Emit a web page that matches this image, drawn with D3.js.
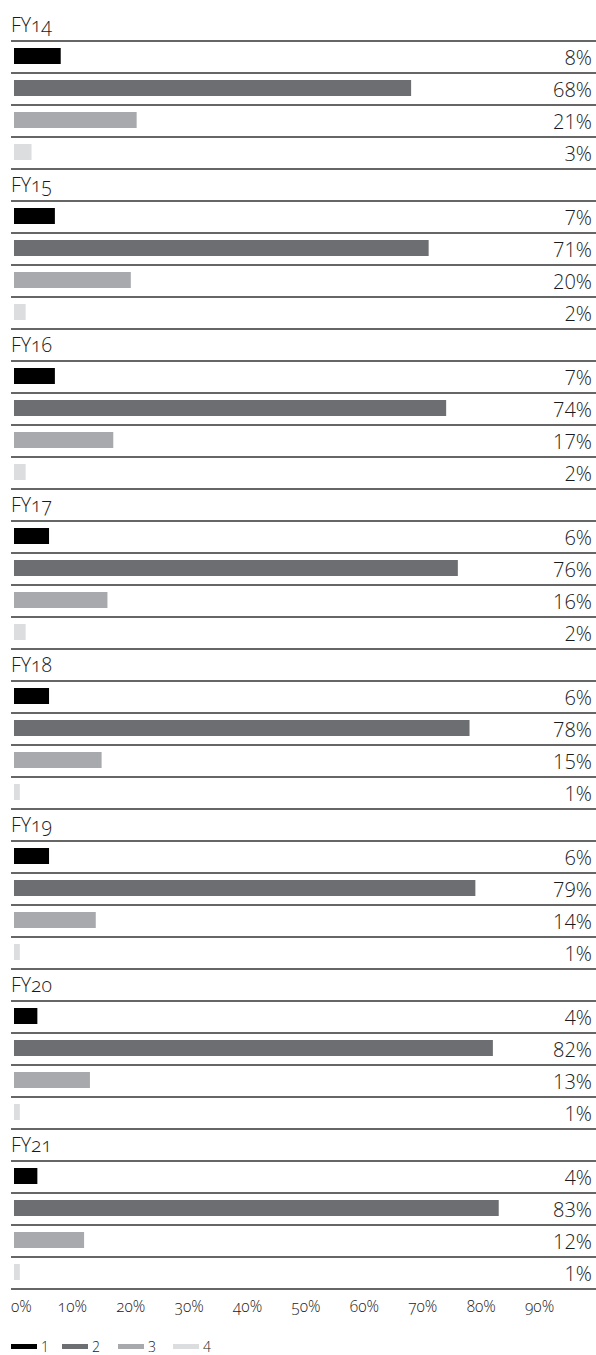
<!DOCTYPE html>
<html><head><meta charset="utf-8">
<script src="https://cdn.jsdelivr.net/npm/d3@7"></script>
<style>
body{margin:0;background:#fff;}
svg{display:block;font-family:"Open Sans",sans-serif;}
.onum{font-variant-numeric:oldstyle-nums;font-feature-settings:"onum" 1;}
</style></head><body>
<svg id="c" width="596" height="1355"></svg>
<script>
const years = ["FY14","FY15","FY16","FY17","FY18","FY19","FY20","FY21"];
const series = ["1","2","3","4"];
const s1 = [8,7,7,6,6,6,4,4];
const s2 = [68,71,74,76,78,79,82,83];
const s3 = [21,20,17,16,15,14,13,12];
const s4 = [3,2,2,2,1,1,1,1];
const ticks = [0,10,20,30,40,50,60,70,80,90];
const colors = ["#000000","#6d6e71","#a7a9ac","#dcddde"];

const svg = d3.select("#c");
const x = d3.scaleLinear().domain([0,90]).range([14,539.6]);
const rows = [];
years.forEach((y,gi)=>{
  rows.push({id:y+"-t", type:"title", label:y});
  [s1,s2,s3,s4].forEach((s,si)=>rows.push({id:y+"-"+si, type:"bar", v:s[gi], si}));
});
const yb = d3.scaleBand().domain(rows.map(r=>r.id)).range([9,1289]);

const g = svg.append("g");
g.selectAll("line.sep").data(rows).join("line")
  .attr("x1",11).attr("x2",596)
  .attr("y1",r=>yb(r.id)+yb.bandwidth()).attr("y2",r=>yb(r.id)+yb.bandwidth())
  .attr("stroke","#333").attr("stroke-width",1.4);

g.selectAll("text.title").data(rows.filter(r=>r.type==="title")).join("text")
  .attr("class","onum").attr("x",11).attr("y",r=>yb(r.id)+23)
  .attr("font-size",19.5).attr("font-weight",300).attr("fill","#1a1a1a").text(r=>r.label);

const bars = rows.filter(r=>r.type==="bar");
g.selectAll("rect.bar").data(bars).join("rect")
  .attr("x",x(0)).attr("y",r=>yb(r.id)+7).attr("height",16)
  .attr("width",r=>x(r.v)-x(0)).attr("fill",r=>colors[r.si]);

g.selectAll("text.val").data(bars).join("text")
  .attr("x",592).attr("y",r=>yb(r.id)+24).attr("text-anchor","end")
  .attr("font-size",20).attr("font-weight",300).attr("fill","#1a1a1a").text(r=>r.v+"%");

svg.append("g").selectAll("text").data(ticks).join("text")
  .attr("class","onum")
  .attr("x",d=>d===0?11:x(d)).attr("y",1312)
  .attr("text-anchor",d=>d===0?"start":"middle")
  .attr("font-size",15.5).attr("font-weight",300).attr("fill","#222").text(d=>d+"%");

const lx = [11,62,118,173];
const lg = svg.append("g").selectAll("g").data(series).join("g")
  .attr("transform",(d,i)=>`translate(${lx[i]},1344)`);
lg.append("rect").attr("width",26).attr("height",5).attr("fill",(d,i)=>colors[i]);
lg.append("text").attr("x",30).attr("y",8).attr("font-size",14).attr("font-weight",300)
  .attr("fill","#1a1a1a").text(d=>d);
</script></body></html>
